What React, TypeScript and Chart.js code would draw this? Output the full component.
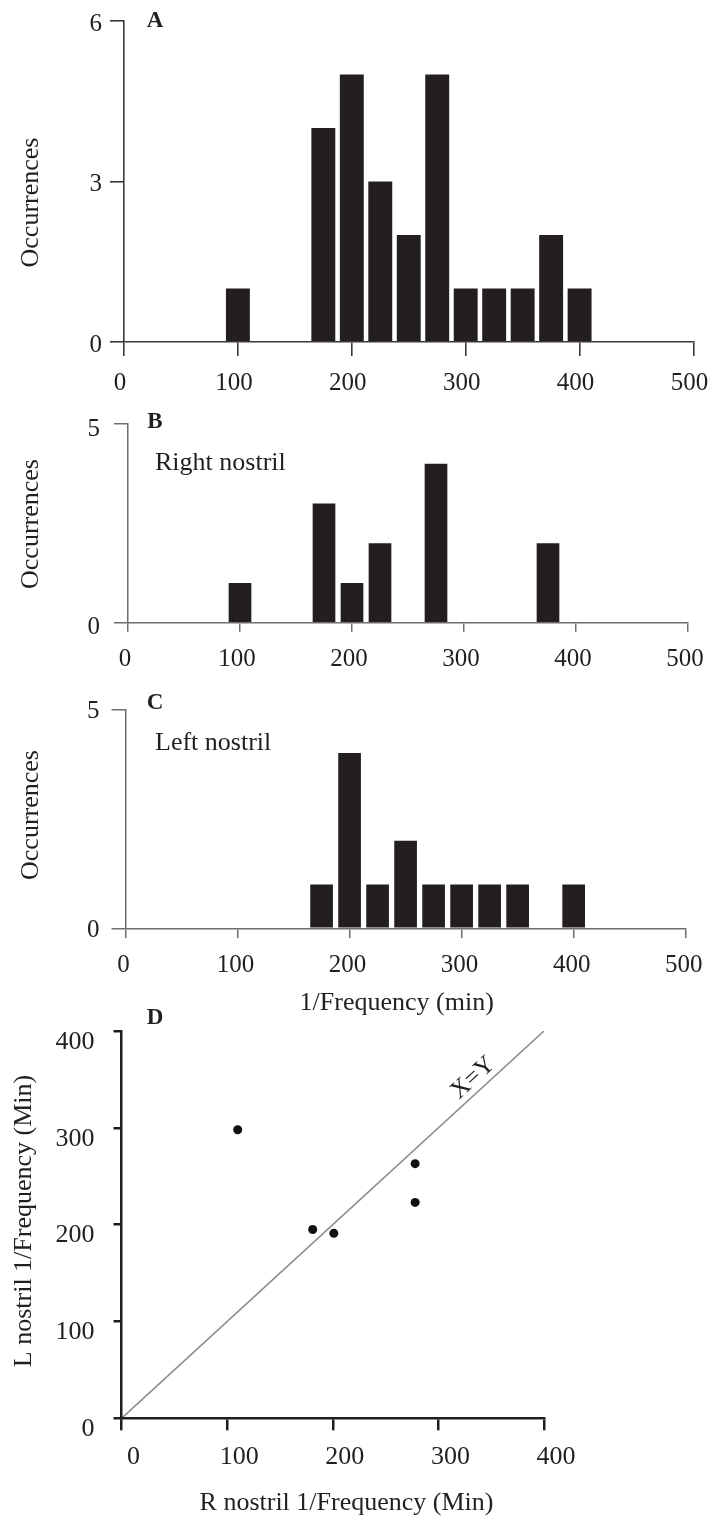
import React, { useEffect, useRef } from 'react';
import { Chart, registerables } from 'chart.js';

Chart.register(...registerables);

// ---- Data ----
const bins = [100, 125, 150, 175, 200, 225, 250, 275, 300, 325, 350, 375, 400];
const countsAll = [1, 0, 0, 4, 5, 3, 2, 5, 1, 1, 1, 2, 1];
const countsRight = [1, 0, 0, 3, 1, 2, 0, 4, 0, 0, 0, 2, 0];
const countsLeft = [0, 0, 0, 1, 4, 1, 2, 1, 1, 1, 1, 0, 1];
const histXTicks = [0, 100, 200, 300, 400, 500];
const allYTicks = [0, 3, 6];
const sideYTicks = [0, 5];

const rightPeriod = [110, 181, 201, 278, 278];
const leftPeriod = [298, 195, 191, 263, 223];
const scatterTicks = [0, 100, 200, 300, 400];
const identityEnds = [0, 400];

const FONT = "'Liberation Serif', 'Times New Roman', serif";
const INK = '#231f20';

const textPlugin = {
  id: 'panelText',
  afterDraw(chart: any, _args: any, opts: any) {
    const ctx = chart.ctx;
    for (const it of (opts && opts.items) || []) {
      ctx.save();
      ctx.font = it.font;
      ctx.fillStyle = it.color || INK;
      ctx.textAlign = it.align || 'center';
      ctx.textBaseline = 'middle';
      ctx.translate(it.x, it.y);
      if (it.rotation) ctx.rotate((it.rotation * Math.PI) / 180);
      ctx.fillText(it.text, 0, 0);
      ctx.restore();
    }
  },
};

function histConfig(o: any) {
  return {
    type: 'bar',
    data: {
      datasets: [
        {
          data: bins.map((b, i) => ({ x: b, y: o.counts[i] })),
          backgroundColor: INK,
          borderWidth: 0,
          barPercentage: o.barPct,
          categoryPercentage: 1,
        },
      ],
    },
    options: {
      animation: false,
      responsive: false,
      devicePixelRatio: 1,
      layout: { padding: { top: o.top, right: o.padRight, bottom: 0, left: 0 } },
      plugins: {
        legend: { display: false },
        tooltip: { enabled: false },
        panelText: { items: o.texts },
      },
      scales: {
        x: {
          type: 'linear',
          min: 0,
          max: 500,
          offset: false,
          afterBuildTicks: (s: any) => {
            s.ticks = histXTicks.map((v) => ({ value: v }));
          },
          afterFit: (s: any) => {
            s.height = o.xHeight;
            s.paddingLeft = 0;
            s.paddingRight = 0;
          },
          grid: {
            display: true,
            offset: false,
            drawOnChartArea: false,
            drawTicks: true,
            tickLength: o.xTick,
            color: o.axis,
            lineWidth: o.axisW,
          },
          border: { display: true, color: o.axis, width: o.axisW, z: 1 },
          ticks: {
            color: INK,
            font: { family: FONT, size: 25 },
            padding: o.xPad,
            labelOffset: o.xLabelOffset,
            maxRotation: 0,
            autoSkip: false,
          },
        },
        y: {
          type: 'linear',
          min: 0,
          max: o.yMax,
          afterBuildTicks: (s: any) => {
            s.ticks = o.yTicks.map((v: number) => ({ value: v }));
          },
          afterFit: (s: any) => {
            s.width = o.yWidth;
            s.paddingTop = 0;
            s.paddingBottom = 0;
          },
          grid: {
            display: true,
            drawOnChartArea: false,
            drawTicks: true,
            tickLength: o.yTick,
            color: o.axis,
            lineWidth: o.axisW,
          },
          border: { display: true, color: o.axis, width: o.axisW },
          ticks: {
            color: INK,
            font: { family: FONT, size: 25 },
            padding: o.yPad,
            labelOffset: o.yLabelOffset,
            autoSkip: false,
          },
        },
      },
    },
    plugins: [textPlugin],
  };
}

function scatterConfig() {
  const axis = '#1e1e1e';
  const axisW = 2.5;
  return {
    type: 'scatter',
    data: {
      datasets: [
        {
          data: identityEnds.map((v) => ({ x: v, y: v })),
          showLine: true,
          borderColor: '#8c8c8c',
          borderWidth: 1.6,
          pointRadius: 0,
          order: 2,
        },
        {
          data: rightPeriod.map((x, i) => ({ x, y: leftPeriod[i] })),
          pointRadius: 4.5,
          backgroundColor: '#111111',
          borderWidth: 0,
          order: 1,
        },
      ],
    },
    options: {
      animation: false,
      responsive: false,
      devicePixelRatio: 1,
      layout: { padding: { top: 31, right: 164, bottom: 0, left: 0 } },
      plugins: {
        legend: { display: false },
        tooltip: { enabled: false },
        panelText: {
          items: [
            { text: 'D', x: 155, y: 18, font: `bold 23px ${FONT}` },
            { text: 'L nostril 1/Frequency (Min)', x: 24, y: 221, rotation: -90, font: `26px ${FONT}` },
            { text: 'R nostril 1/Frequency (Min)', x: 346.5, y: 503, font: `26px ${FONT}` },
            { text: 'X=Y', x: 473, y: 78, rotation: -42.5, font: `25px ${FONT}` },
          ],
        },
      },
      scales: {
        x: {
          type: 'linear',
          min: 0,
          max: 400,
          afterBuildTicks: (s: any) => {
            s.ticks = scatterTicks.map((v) => ({ value: v }));
          },
          afterFit: (s: any) => {
            s.height = 98.7;
            s.paddingLeft = 0;
            s.paddingRight = 0;
          },
          grid: {
            display: true,
            drawOnChartArea: false,
            drawTicks: true,
            tickLength: 12,
            color: axis,
            lineWidth: axisW,
          },
          border: { display: true, color: axis, width: axisW, z: 1 },
          ticks: {
            color: INK,
            font: { family: FONT, size: 26 },
            padding: 11,
            labelOffset: 12,
            maxRotation: 0,
            autoSkip: false,
          },
        },
        y: {
          type: 'linear',
          min: 0,
          max: 400,
          afterBuildTicks: (s: any) => {
            s.ticks = scatterTicks.map((v) => ({ value: v }));
          },
          afterFit: (s: any) => {
            s.width = 121.5;
            s.paddingTop = 0;
            s.paddingBottom = 0;
          },
          grid: {
            display: true,
            drawOnChartArea: false,
            drawTicks: true,
            tickLength: 8,
            color: axis,
            lineWidth: axisW,
          },
          border: { display: true, color: axis, width: axisW, z: 1 },
          ticks: {
            color: INK,
            font: { family: FONT, size: 26 },
            padding: 19,
            labelOffset: 11,
            autoSkip: false,
          },
        },
      },
    },
    plugins: [textPlugin],
  };
}

export default function App() {
  const refA = useRef<HTMLCanvasElement>(null);
  const refB = useRef<HTMLCanvasElement>(null);
  const refC = useRef<HTMLCanvasElement>(null);
  const refD = useRef<HTMLCanvasElement>(null);

  useEffect(() => {
    const charts: Chart[] = [];
    charts.push(
      new Chart(
        refA.current as HTMLCanvasElement,
        histConfig({
          counts: countsAll,
          yTicks: allYTicks,
          yMax: 6,
          yWidth: 124,
          padRight: 14.5,
          top: 21,
          xHeight: 58,
          yTick: 14,
          yPad: 8,
          yLabelOffset: 3,
          xTick: 14,
          xPad: 12,
          xLabelOffset: -4,
          axis: '#3a3a3a',
          axisW: 1.6,
          barPct: 0.84,
          texts: [
            { text: 'A', x: 155, y: 21, font: `bold 23px ${FONT}` },
            { text: 'Occurrences', x: 31.6, y: 202.5, rotation: -90, font: `26px ${FONT}` },
          ],
        }) as any
      )
    );
    charts.push(
      new Chart(
        refB.current as HTMLCanvasElement,
        histConfig({
          counts: countsRight,
          yTicks: sideYTicks,
          yMax: 5,
          yWidth: 128,
          padRight: 20,
          top: 24,
          xHeight: 67.3,
          yTick: 14,
          yPad: 14,
          yLabelOffset: 5,
          xTick: 9,
          xPad: 13,
          xLabelOffset: -3,
          axis: '#6e6e6e',
          axisW: 1.5,
          barPct: 0.81,
          texts: [
            { text: 'B', x: 155, y: 21.7, font: `bold 23px ${FONT}` },
            { text: 'Right nostril', x: 155, y: 63, align: 'left', font: `26px ${FONT}` },
            { text: 'Occurrences', x: 31.6, y: 124, rotation: -90, font: `26px ${FONT}` },
          ],
        }) as any
      )
    );
    charts.push(
      new Chart(
        refC.current as HTMLCanvasElement,
        histConfig({
          counts: countsLeft,
          yTicks: sideYTicks,
          yMax: 5,
          yWidth: 125.5,
          padRight: 22.3,
          top: 19.3,
          xHeight: 91.7,
          yTick: 14,
          yPad: 12,
          yLabelOffset: 2,
          xTick: 10,
          xPad: 12,
          xLabelOffset: -2,
          axis: '#6e6e6e',
          axisW: 1.5,
          barPct: 0.81,
          texts: [
            { text: 'C', x: 155, y: 12.7, font: `bold 23px ${FONT}` },
            { text: 'Left nostril', x: 155, y: 53.3, align: 'left', font: `26px ${FONT}` },
            { text: 'Occurrences', x: 31.6, y: 125, rotation: -90, font: `26px ${FONT}` },
            { text: '1/Frequency (min)', x: 396.7, y: 313.3, font: `26px ${FONT}` },
          ],
        }) as any
      )
    );
    charts.push(new Chart(refD.current as HTMLCanvasElement, scatterConfig() as any));
    return () => {
      charts.forEach((c) => c.destroy());
    };
  }, []);

  const cs = (top: number): React.CSSProperties => ({ position: 'absolute', left: 0, top });

  return (
    <div style={{ position: 'absolute', left: 0, top: 0, width: 708, height: 1517, background: '#ffffff', overflow: 'hidden' }}>
      <canvas ref={refA} width={708} height={400} style={cs(0)} />
      <canvas ref={refB} width={708} height={290} style={cs(400)} />
      <canvas ref={refC} width={708} height={330} style={cs(690)} />
      <canvas ref={refD} width={708} height={517} style={cs(1000)} />
    </div>
  );
}
